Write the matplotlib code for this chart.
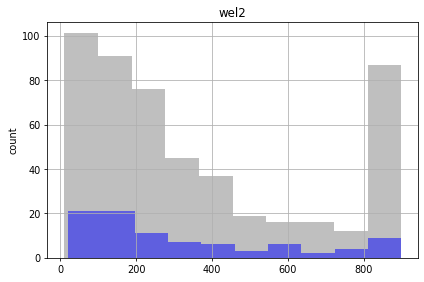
import numpy as np
import matplotlib
matplotlib.use("Agg")
import matplotlib.pyplot as plt

# counts, 10 bins each
all_lo, all_hi = 10, 899
all_counts = [101, 91, 76, 45, 37, 19, 16, 16, 12, 87]
sub_lo, sub_hi = 20, 899
sub_counts = [21, 21, 11, 7, 6, 3, 6, 2, 4, 9]

all_edges = np.linspace(all_lo, all_hi, len(all_counts) + 1)
sub_edges = np.linspace(sub_lo, sub_hi, len(sub_counts) + 1)
all_mid = (all_edges[:-1] + all_edges[1:]) / 2
sub_mid = (sub_edges[:-1] + sub_edges[1:]) / 2

fig, ax = plt.subplots(figsize=(6, 4), dpi=424 / 6)
ax.hist(all_mid, bins=all_edges, weights=all_counts, color="grey", alpha=0.5)
ax.hist(sub_mid, bins=sub_edges, weights=sub_counts, color="blue", alpha=0.5)
ax.grid(True)
ax.set_title("wel2")
ax.set_ylabel("count")
fig.subplots_adjust(left=0.1116, right=0.986, top=0.919, bottom=0.0857)
fig.savefig("out.png")
